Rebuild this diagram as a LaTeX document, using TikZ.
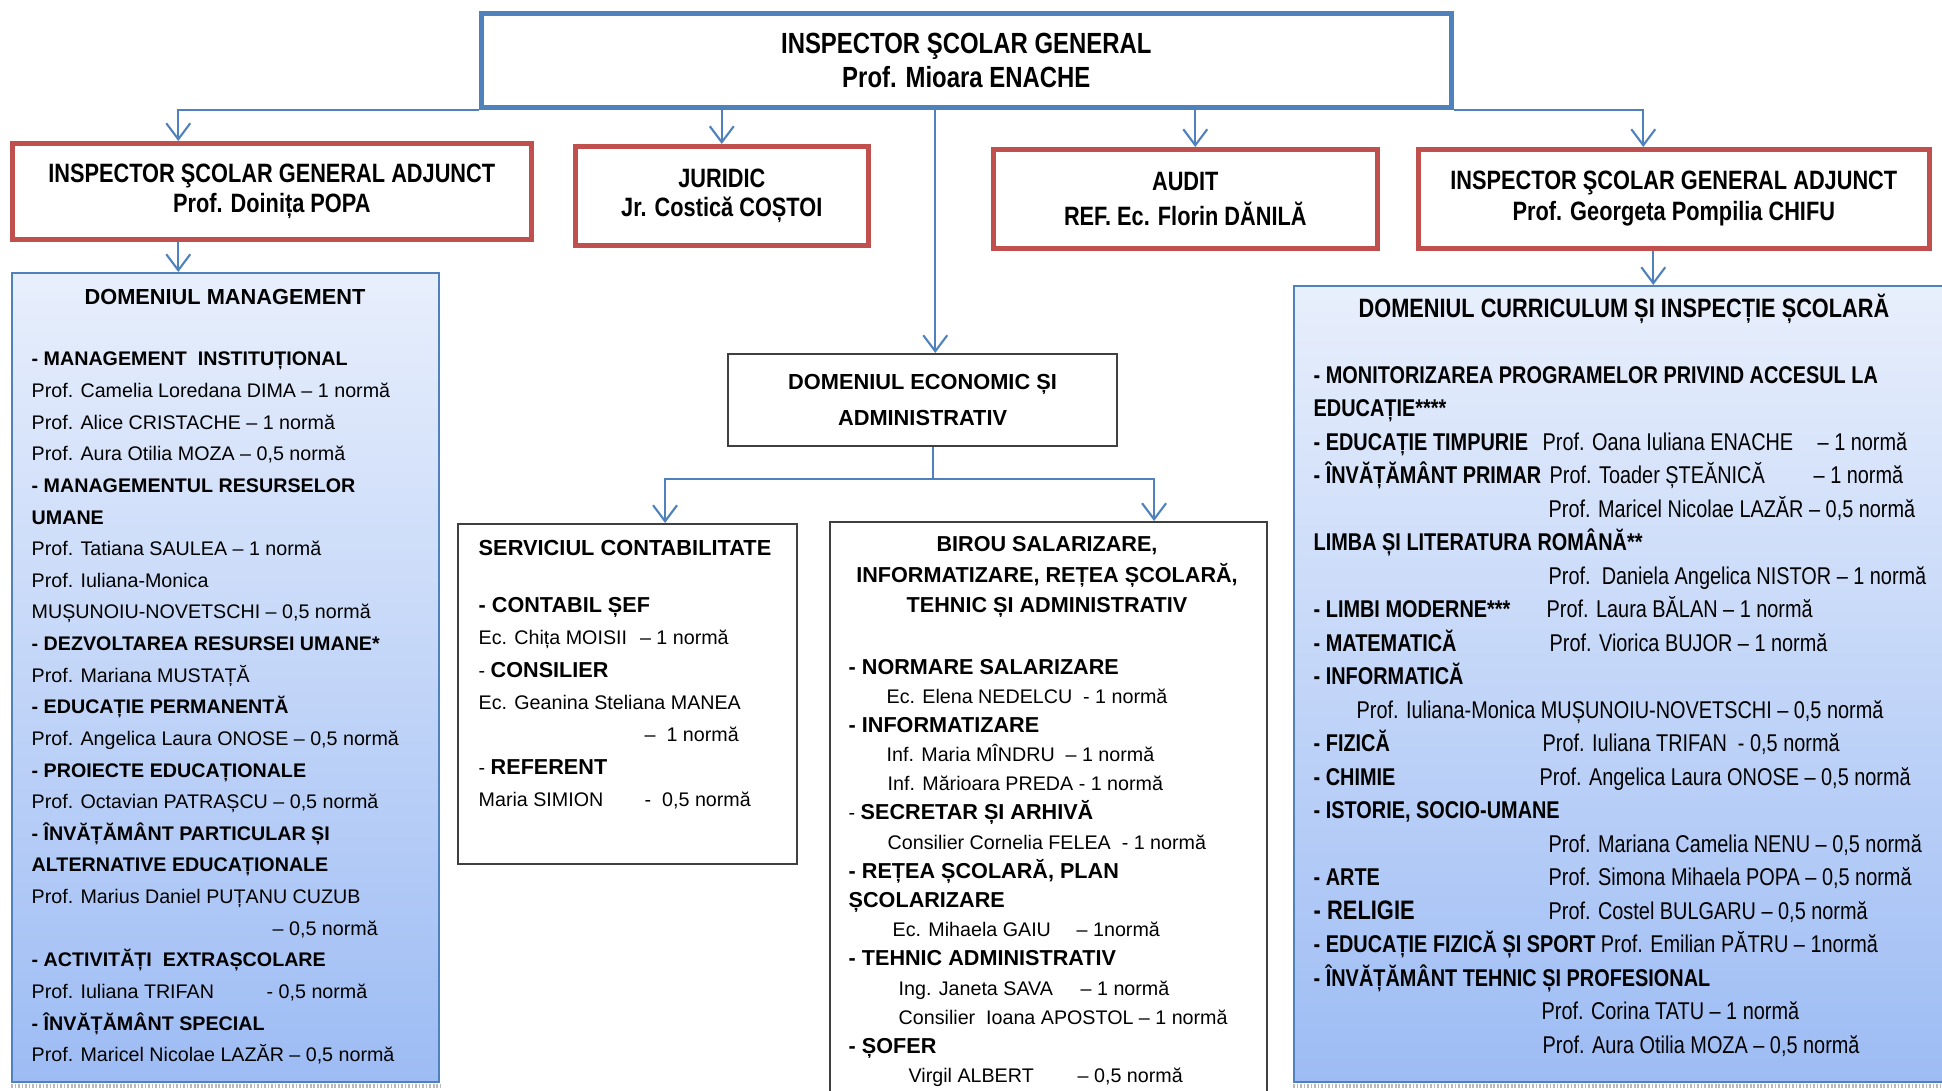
\documentclass[tikz,border=0pt]{standalone}
\usepackage{fontspec}
\setmainfont{Liberation Sans}
\newfontfamily\narrowsans[FakeStretch=0.82]{Liberation Sans}
\usetikzlibrary{arrows.meta}

\definecolor{headblue}{HTML}{4F81BD}
\definecolor{boxred}{HTML}{C0504D}
\definecolor{boxgray}{HTML}{3F3F3F}
\definecolor{domtop}{HTML}{E8EFFC}
\definecolor{dombot}{HTML}{9DBCF4}

\newcommand\fnthead{\narrowsans\bfseries\fontsize{8.3}{9.5}\selectfont}
\newcommand\fntred{\narrowsans\bfseries\fontsize{7.55}{8.8}\selectfont}
\newcommand\fntcur{\narrowsans\fontsize{6.9}{9.53}\selectfont}
\newcommand\fnttitle{\bfseries\fontsize{6.2}{10.2}\selectfont}
\newcommand\subhd[1]{{\fontsize{6.15}{8}\selectfont\bfseries #1}}

\tikzset{
	orgbox/.style = {draw, inner sep=0pt, anchor=north west, align=center},
	headbox/.style = {orgbox, draw=headblue, line width=1.3pt, font=\fnthead},% inspector general
	redbox/.style = {orgbox, draw=boxred, line width=1.3pt, font=\fntred},% adjuncti, juridic, audit
	domainbox/.style = {orgbox, draw=headblue, line width=0.6pt,
		top color=domtop, bottom color=dombot},% domenii
	plainbox/.style = {orgbox, draw=boxgray, line width=0.6pt},
	listtext/.style = {inner sep=0pt, anchor=north west},
	band/.style = {gray!55, line width=1.2pt, dash pattern=on 0.5pt off 0.5pt},
	conn/.style = {draw=headblue, line width=0.6pt},
	arr/.style = {conn, -{Straight Barb[length=1.6mm, width=2.4mm]}}
}

\begin{document}
\begin{tikzpicture}[x=0.1mm, y=-0.1mm]
\useasboundingbox (0,0) rectangle (1942,1091);

% conducere
\node[headbox, minimum width=97mm, minimum height=9.4mm] (isg) at (479,11)
	{INSPECTOR ŞCOLAR GENERAL\\Prof. Mioara ENACHE};
\node[redbox, minimum width=51.9mm, minimum height=9.6mm] (adjl) at (10,141)
	{INSPECTOR ŞCOLAR GENERAL ADJUNCT\\Prof. Doinița POPA};
\node[redbox, minimum width=29.3mm, minimum height=9.9mm] (jur) at (573,144)
	{JURIDIC\\[-0.3pt]Jr. Costică COȘTOI};
\node[redbox, minimum width=38.4mm, minimum height=9.9mm] (aud) at (991,147)
	{AUDIT\\[1.2pt]REF. Ec. Florin DĂNILĂ};
\node[redbox, minimum width=51.1mm, minimum height=9.9mm] (adjr) at (1416,147)
	{INSPECTOR ŞCOLAR GENERAL ADJUNCT\\Prof. Georgeta Pompilia CHIFU};

% domenii
\node[domainbox, minimum width=42.7mm, minimum height=80.9mm] (mgmt) at (11,272) {};
\node[domainbox, minimum width=66mm, minimum height=79.6mm] (curr) at (1293,285) {};
\node[plainbox, minimum width=38.9mm, minimum height=9.2mm, font=\fnttitle] (econ) at (727,353)
	{DOMENIUL ECONOMIC ȘI\\ADMINISTRATIV};
\node[plainbox, minimum width=33.9mm, minimum height=34mm] (serv) at (457,523) {};
\node[plainbox, minimum width=43.7mm, minimum height=60mm] (birou) at (829,521) {};
\draw[band] ([yshift=-0.3mm]mgmt.south west) -- ([yshift=-0.3mm]mgmt.south east);
\draw[band] ([yshift=-0.3mm]curr.south west) -- ([yshift=-0.3mm]curr.south east);

% domeniul management
\node[font=\fnttitle, anchor=base] (mgtitle) at (225,305) {DOMENIUL MANAGEMENT};
\node[listtext, font=\fontsize{5.6}{9}\selectfont] (mglist) at (31,343) {%
\begin{tabular}{@{}l@{}}
\textbf{- MANAGEMENT\ \ INSTITUȚIONAL}\\
Prof. Camelia Loredana DIMA – 1 normă\\
Prof. Alice CRISTACHE – 1 normă\\
Prof. Aura Otilia MOZA – 0,5 normă\\
\textbf{- MANAGEMENTUL RESURSELOR}\\
\textbf{UMANE}\\
Prof. Tatiana SAULEA – 1 normă\\
Prof. Iuliana-Monica\\
MUȘUNOIU-NOVETSCHI – 0,5 normă\\
\textbf{- DEZVOLTAREA RESURSEI UMANE*}\\
Prof. Mariana MUSTAȚĂ\\
\textbf{- EDUCAȚIE PERMANENTĂ}\\
Prof. Angelica Laura ONOSE – 0,5 normă\\
\textbf{- PROIECTE EDUCAȚIONALE}\\
Prof. Octavian PATRAȘCU – 0,5 normă\\
\textbf{- ÎNVĂȚĂMÂNT PARTICULAR ȘI}\\
\textbf{ALTERNATIVE EDUCAȚIONALE}\\
Prof. Marius Daniel PUȚANU CUZUB\\
\hspace*{24.1mm}– 0,5 normă\\
\textbf{- ACTIVITĂȚI\ \ EXTRAȘCOLARE}\\
\makebox[23.5mm][l]{Prof. Iuliana TRIFAN}- 0,5 normă\\
\textbf{- ÎNVĂȚĂMÂNT SPECIAL}\\
Prof. Maricel Nicolae LAZĂR – 0,5 normă
\end{tabular}};

% serviciul contabilitate
\node[font=\fnttitle, anchor=base west, inner sep=0pt] (svtitle) at (478,555) {SERVICIUL CONTABILITATE};
\node[listtext, font=\fontsize{5.6}{9.2}\selectfont] (svlist) at (478,589) {%
\begin{tabular}{@{}l@{}}
\subhd{- CONTABIL ȘEF}\\
Ec. Chița MOISII\hspace{1.3mm}– 1 normă\\
- \subhd{CONSILIER}\\
Ec. Geanina Steliana MANEA\\
\hspace*{16.6mm}–\ \ 1 normă\\
- \subhd{REFERENT}\\
\makebox[16.6mm][l]{Maria SIMION}-\ \ 0,5 normă
\end{tabular}};

% birou
\node[font=\bfseries\fontsize{6.15}{8.8}\selectfont, align=center] (brtitle) at (1047,577)
	{BIROU SALARIZARE,\\INFORMATIZARE, REȚEA ȘCOLARĂ,\\TEHNIC ȘI ADMINISTRATIV};
\node[listtext, font=\fontsize{5.6}{8.3}\selectfont] (brlist) at (848,653) {%
\begin{tabular}{@{}l@{}}
\subhd{- NORMARE SALARIZARE}\\
\hspace*{3.8mm}Ec. Elena NEDELCU\ \ - 1 normă\\
\subhd{- INFORMATIZARE}\\
\hspace*{3.8mm}Inf. Maria MÎNDRU\ \ – 1 normă\\
\hspace*{3.9mm}Inf. Mărioara PREDA - 1 normă\\
- \subhd{SECRETAR ȘI ARHIVĂ}\\
\hspace*{3.9mm}Consilier Cornelia FELEA\ \ - 1 normă\\
\subhd{- REȚEA ȘCOLARĂ, PLAN}\\
\subhd{ȘCOLARIZARE}\\
\makebox[22.8mm][l]{\hspace*{4.4mm}Ec. Mihaela GAIU}– 1normă\\
\subhd{- TEHNIC ADMINISTRATIV}\\
\makebox[23.2mm][l]{\hspace*{5mm}Ing. Janeta SAVA}– 1 normă\\
\hspace*{5mm}Consilier\ \ Ioana APOSTOL – 1 normă\\
\subhd{- ȘOFER}\\
\makebox[22.9mm][l]{\hspace*{6mm}Virgil ALBERT}– 0,5 normă
\end{tabular}};

% domeniul curriculum
\node[font=\fntred, anchor=base] (cutitle) at (1624,318) {DOMENIUL CURRICULUM ȘI INSPECȚIE ȘCOLARĂ};
\node[listtext, font=\fntcur] (culist) at (1313,359) {%
\begin{tabular}{@{}l@{}}
\textbf{- MONITORIZAREA PROGRAMELOR PRIVIND ACCESUL LA}\\
\textbf{EDUCAȚIE****}\\
\makebox[22.9mm][l]{\textbf{- EDUCAȚIE TIMPURIE}}\makebox[27.5mm][l]{Prof. Oana Iuliana ENACHE}– 1 normă\\
\makebox[23.6mm][l]{\textbf{- ÎNVĂȚĂMÂNT PRIMAR}}\makebox[26.4mm][l]{Prof. Toader ȘTEĂNICĂ}– 1 normă\\
\hspace*{23.5mm}Prof. Maricel Nicolae LAZĂR – 0,5 normă\\
\textbf{LIMBA ȘI LITERATURA ROMÂNĂ**}\\
\hspace*{23.5mm}Prof.\ \ Daniela Angelica NISTOR – 1 normă\\
\makebox[23.3mm][l]{\textbf{- LIMBI MODERNE***}}Prof. Laura BĂLAN – 1 normă\\
\makebox[23.6mm][l]{\textbf{- MATEMATICĂ}}Prof. Viorica BUJOR – 1 normă\\
\textbf{- INFORMATICĂ}\\
\hspace*{4.3mm}Prof. Iuliana-Monica MUȘUNOIU-NOVETSCHI – 0,5 normă\\
\makebox[22.9mm][l]{\textbf{- FIZICĂ}}Prof. Iuliana TRIFAN\ \ - 0,5 normă\\
\makebox[22.6mm][l]{\textbf{- CHIMIE}}Prof. Angelica Laura ONOSE – 0,5 normă\\
\textbf{- ISTORIE, SOCIO-UMANE}\\
\hspace*{23.5mm}Prof. Mariana Camelia NENU – 0,5 normă\\
\makebox[23.5mm][l]{\textbf{- ARTE}}Prof. Simona Mihaela POPA – 0,5 normă\\
\makebox[23.5mm][l]{{\fontsize{7.6}{9}\selectfont\bfseries - RELIGIE}}Prof. Costel BULGARU – 0,5 normă\\
\textbf{- EDUCAȚIE FIZICĂ ȘI SPORT} Prof. Emilian PĂTRU – 1normă\\
\textbf{- ÎNVĂȚĂMÂNT TEHNIC ȘI PROFESIONAL}\\
\hspace*{22.8mm}Prof. Corina TATU – 1 normă\\
\hspace*{22.9mm}Prof. Aura Otilia MOZA – 0,5 normă
\end{tabular}};

% legaturi
\draw[arr] (isg.south west) -| ([xshift=-9.35mm]adjl.north);
\draw[arr] (jur.north |- isg.south) -- (jur.north);
\draw[arr] ([xshift=-3.1mm]isg.south) -- ([xshift=-3.1mm]isg.south |- econ.north);
\draw[arr] ([xshift=1mm]aud.north |- isg.south) -- ([xshift=1mm]aud.north);
\draw[arr] (isg.south east) -| ([xshift=-3.05mm]adjr.north);
\draw[arr] ([xshift=-9.35mm]adjl.south) -- ([xshift=-9.35mm]adjl.south |- mgmt.north);
\draw[arr] ([xshift=-2.05mm]adjr.south) -- ([xshift=-2.05mm]adjr.south |- curr.north);
\coordinate (econbus) at (933,479);
\draw[conn] (econbus |- econ.south) -- (econbus);
\draw[arr] (econbus) -| ([xshift=3.75mm]serv.north);
\draw[arr] (econbus) -| ([xshift=10.55mm]birou.north);
\end{tikzpicture}
\end{document}
